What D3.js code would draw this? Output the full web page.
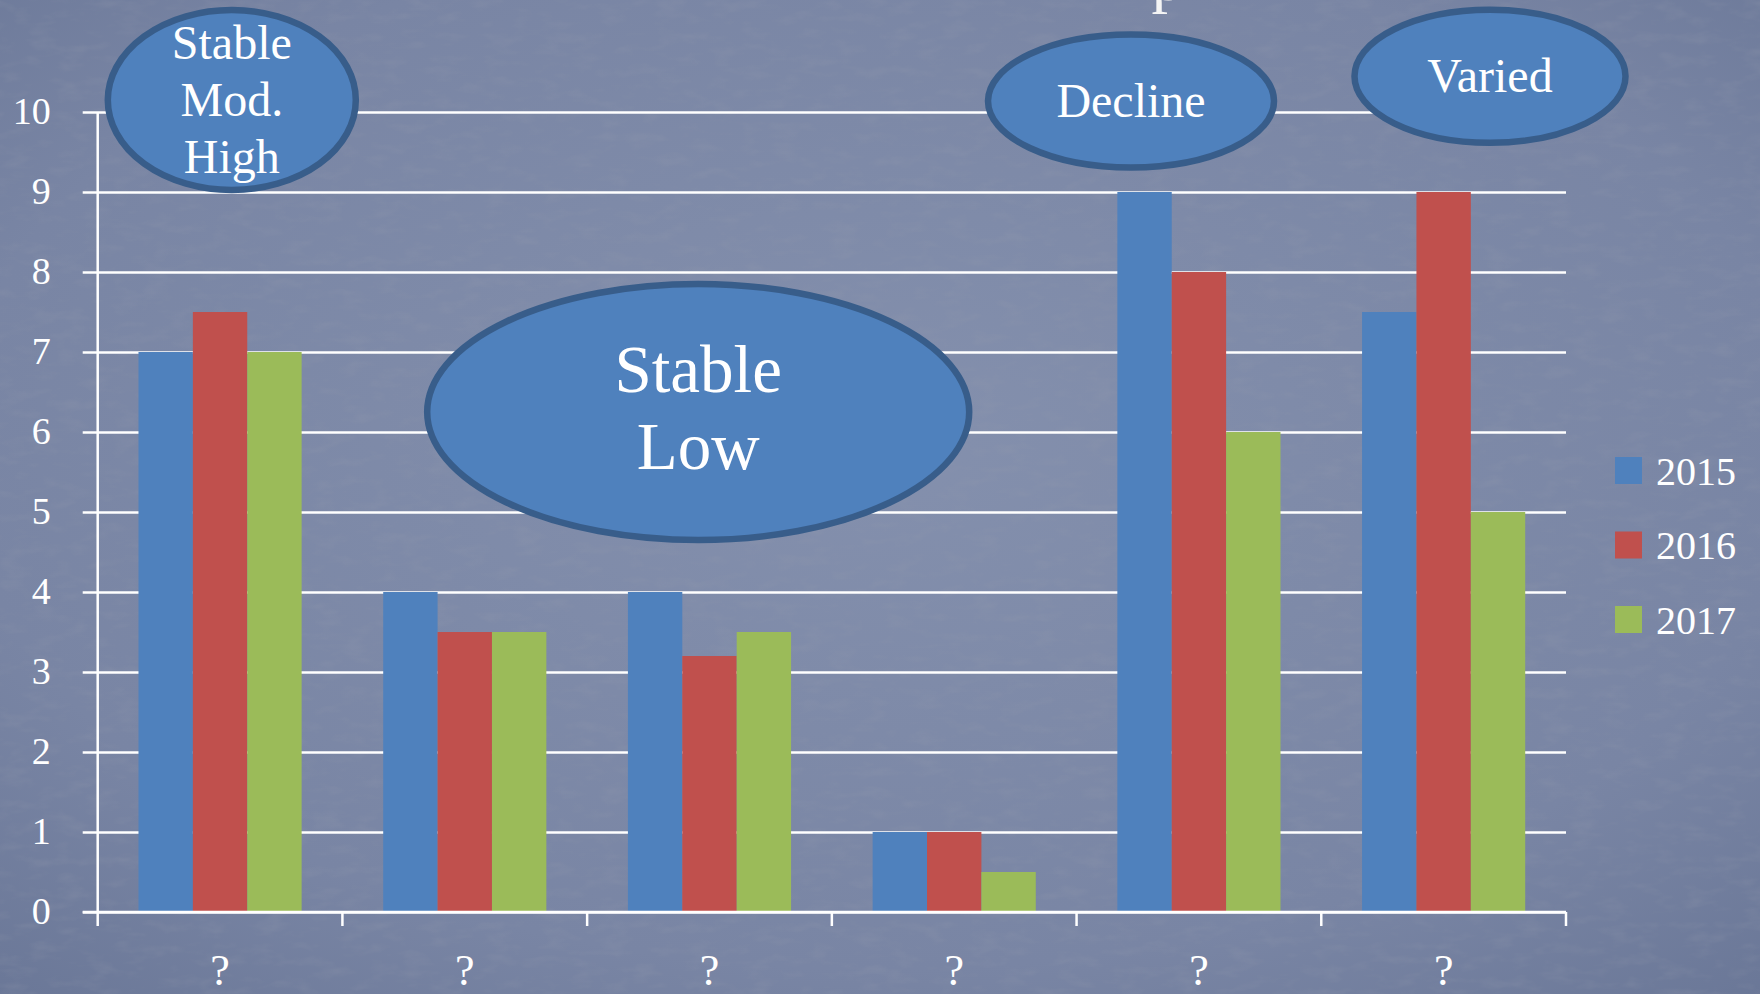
<!DOCTYPE html>
<html>
<head>
<meta charset="utf-8">
<script src="https://cdn.jsdelivr.net/npm/d3@7"></script>
<style>
  html, body { margin: 0; padding: 0; background: #7b87a5; }
  svg { display: block; }
</style>
</head>
<body>
<svg id="chart" width="1760" height="994"></svg>
<script>
// ---- data ----
const categories = ["?", "?", "?", "?", "?", "?"];
const series = ["2015", "2016", "2017"];
const values2015 = [7, 4, 4, 1, 9, 7.5];
const values2016 = [7.5, 3.5, 3.2, 1, 8, 9];
const values2017 = [7, 3.5, 3.5, 0.5, 6, 5];
const yTicks = [0, 1, 2, 3, 4, 5, 6, 7, 8, 9, 10];
const seriesColors = ["#4f81bd", "#c0504d", "#9bbb59"];

// callout bubble labels
const calloutLines = [["Stable", "Mod.", "High"], ["Stable", "Low"], ["Decline"], ["Varied"]];

const seriesValues = [values2015, values2016, values2017];

(function draw() {
const W = 1760, H = 994;
const plotLeft = 97.7, plotRight = 1566, plotTop = 112, plotBottom = 912;
const serif = "'Liberation Serif', 'DejaVu Serif', serif";

const svg = d3.select("#chart");

// ---- background ----
const defs = svg.append("defs");
const bg = defs.append("radialGradient").attr("id", "bgGrad")
  .attr("cx", "50%").attr("cy", "45%").attr("r", "75%");
bg.append("stop").attr("offset", "0%").attr("stop-color", "#8490ad");
bg.append("stop").attr("offset", "70%").attr("stop-color", "#7985a4");
bg.append("stop").attr("offset", "100%").attr("stop-color", "#6a7797");

const noise = defs.append("filter").attr("id", "grain")
  .attr("x", 0).attr("y", 0).attr("width", "100%").attr("height", "100%");
noise.append("feTurbulence").attr("type", "fractalNoise")
  .attr("baseFrequency", "0.035 0.09").attr("numOctaves", 3).attr("seed", 7);
noise.append("feColorMatrix").attr("type", "matrix")
  .attr("values", "0 0 0 0 0.3  0 0 0 0 0.33  0 0 0 0 0.42  0 0 0 -1.4 0.75");

svg.append("rect").attr("width", W).attr("height", H).attr("fill", "url(#bgGrad)");
svg.append("rect").attr("width", W).attr("height", H)
  .attr("filter", "url(#grain)").attr("opacity", 0.35);

// title sits mostly above the visible area; only its descender shows
svg.append("text")
  .attr("x", 1168).attr("y", 0)
  .attr("text-anchor", "middle")
  .attr("font-family", serif).attr("font-size", 66)
  .attr("fill", "#f4f4f4")
  .text("p");

// ---- scales ----
const x = d3.scaleBand().domain(d3.range(categories.length)).range([plotLeft, plotRight]).padding(0);
const xSub = d3.scaleBand().domain(series).range([0, x.bandwidth()]).paddingInner(0).paddingOuter(0.75);
const y = d3.scaleLinear().domain([0, 10]).range([plotBottom, plotTop]);

// ---- y axis + gridlines ----
const yAxis = svg.append("g")
  .attr("transform", `translate(${plotLeft},0)`)
  .call(d3.axisLeft(y).tickValues(yTicks).tickSize(0).tickPadding(47).tickFormat(d3.format("d")));
yAxis.select(".domain").remove();
yAxis.selectAll(".tick line")
  .attr("x1", -15).attr("x2", plotRight - plotLeft)
  .attr("stroke", "#ffffff").attr("stroke-width", 2.5);
yAxis.selectAll(".tick text")
  .attr("font-family", serif).attr("font-size", 38)
  .attr("fill", "#ffffff").attr("dy", "0.3em");

// vertical axis line
svg.append("line")
  .attr("x1", plotLeft).attr("x2", plotLeft)
  .attr("y1", plotTop).attr("y2", plotBottom)
  .attr("stroke", "#ffffff").attr("stroke-width", 2.5);

// ---- bars ----
const groups = svg.append("g").selectAll("g")
  .data(categories.map((c, i) => i))
  .join("g")
  .attr("transform", i => `translate(${x(i)},0)`);

groups.selectAll("rect")
  .data(i => series.map((s, k) => ({ s, k, v: seriesValues[k][i] })))
  .join("rect")
  .attr("x", d => xSub(d.s))
  .attr("width", xSub.bandwidth())
  .attr("y", d => y(d.v))
  .attr("height", d => y(0) - y(d.v))
  .attr("fill", d => seriesColors[d.k]);

// ---- x axis ----
const xAxisG = svg.append("g").attr("transform", `translate(0,${plotBottom})`);
xAxisG.append("line")
  .attr("x1", plotLeft - 15).attr("x2", plotRight)
  .attr("stroke", "#ffffff").attr("stroke-width", 2.5);
const boundaries = d3.range(categories.length + 1).map(i => plotLeft + i * x.step());
xAxisG.selectAll(".bt").data(boundaries).join("line")
  .attr("class", "bt")
  .attr("x1", d => d).attr("x2", d => d)
  .attr("y1", 0).attr("y2", 14)
  .attr("stroke", "#ffffff").attr("stroke-width", 2.5);
xAxisG.selectAll(".cl").data(categories).join("text")
  .attr("class", "cl")
  .attr("x", (d, i) => x(i) + x.bandwidth() / 2)
  .attr("y", 73)
  .attr("text-anchor", "middle")
  .attr("font-family", serif).attr("font-size", 44)
  .attr("fill", "#ffffff")
  .text(d => d);

// ---- legend ----
const legend = svg.append("g").attr("transform", "translate(1615,457)");
const li = legend.selectAll("g").data(series).join("g")
  .attr("transform", (d, i) => `translate(0,${i * 74.5})`);
li.append("rect").attr("width", 27).attr("height", 27)
  .attr("fill", (d, i) => seriesColors[i]);
li.append("text")
  .attr("x", 41).attr("y", 13.5).attr("dy", "0.36em")
  .attr("font-family", serif).attr("font-size", 40)
  .attr("fill", "#ffffff")
  .text(d => d);

// ---- callout bubbles ----
const bubbles = [
  { cx: 231.8, cy: 100, rx: 124, ry: 90, ty: 100, size: 48, lh: 57 },
  { cx: 698.2, cy: 412, rx: 271, ry: 128, ty: 408, size: 67, lh: 77 },
  { cx: 1131, cy: 101, rx: 143, ry: 66.5, ty: 101, size: 48, lh: 57 },
  { cx: 1490, cy: 76.3, rx: 135.5, ry: 66.5, ty: 76, size: 48, lh: 57 }
];
const bub = svg.append("g").selectAll("g")
  .data(bubbles.map((b, i) => ({ ...b, lines: calloutLines[i] })))
  .join("g");
bub.append("ellipse")
  .attr("cx", d => d.cx).attr("cy", d => d.cy)
  .attr("rx", d => d.rx).attr("ry", d => d.ry)
  .attr("fill", "#4f81bd").attr("stroke", "#385d8a").attr("stroke-width", 6.5);
bub.each(function(d) {
  const n = d.lines.length;
  d3.select(this).selectAll("text").data(d.lines).join("text")
    .attr("x", d.cx)
    .attr("y", (t, j) => d.ty + (j - (n - 1) / 2) * d.lh)
    .attr("dy", "0.34em")
    .attr("text-anchor", "middle")
    .attr("font-family", serif).attr("font-size", d.size)
    .attr("fill", "#ffffff")
    .text(t => t);
});
})();
</script>
</body>
</html>
